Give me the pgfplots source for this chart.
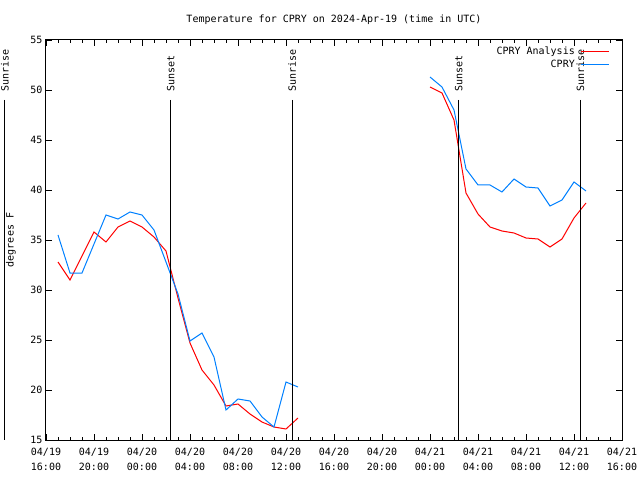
\documentclass[border=0pt]{standalone}
\usepackage{pgfplots}
\pgfplotsset{compat=1.18}
\usepackage{fontspec}
\setmainfont{DejaVu Sans Mono}
\definecolor{cred}{RGB}{255,0,0}
\definecolor{cblue}{RGB}{0,128,255}
\begin{document}
\begin{tikzpicture}
\begin{axis}[
  scale only axis, width=576pt, height=400pt,
  xmin=0, xmax=48, ymin=15, ymax=55,
  xtick={0,4,...,48}, minor x tick num=3,
  ytick={15,20,...,55},
  xticklabels={{04/19\\16:00},{04/19\\20:00},{04/20\\00:00},{04/20\\04:00},{04/20\\08:00},{04/20\\12:00},{04/20\\16:00},{04/20\\20:00},{04/21\\00:00},{04/21\\04:00},{04/21\\08:00},{04/21\\12:00},{04/21\\16:00}},
  tick align=inside, major tick length=6pt, minor tick length=3pt,
  tick style={black, line width=0.8pt},
  axis line style={line width=1pt},
  font=\fontsize{10}{12}\selectfont,
  xticklabel style={align=center, font=\fontsize{10}{15}\selectfont, yshift=-5pt},
  yticklabel style={font=\fontsize{10}{12}\selectfont},
  /pgf/number format/assume math mode=true,
  clip=false,
  title={Temperature for CPRY on 2024-Apr-19 (time in UTC)},
  title style={at={(axis description cs:0.5,1)}, anchor=center, yshift=14pt},
  ylabel={degrees F},
  ylabel style={at={(axis description cs:-0.0608,0.5)}, anchor=center},
  legend style={draw=none, fill=none, at={(axis description cs:1,1)}, anchor=north east,
    xshift=-12pt, yshift=-4.5pt, font=\fontsize{10}{12}\selectfont, row sep=0pt,
    column sep=4pt, inner sep=0pt},
  legend cell align=right,
  legend plot pos=right,
  legend image code/.code={\draw[#1] (0pt,0pt) -- (28pt,0pt);},
]
\coordinate (sw) at (rel axis cs:0,0);
\addplot[cred, line width=1pt] coordinates {
(1,32.8) (2,31.0) (3,33.4) (4,35.8) (5,34.8) (6,36.3) (7,36.9) (8,36.3) (9,35.3) (10,33.9)
(11,29.2) (12,24.7) (13,22.0) (14,20.5) (15,18.4) (16,18.6) (17,17.6) (18,16.8) (19,16.3) (20,16.1) (21,17.2)
};
\addlegendentry{CPRY Analysis}
\addplot[cblue, line width=1pt] coordinates {
(1,35.5) (2,31.7) (3,31.7) (4,34.6) (5,37.5) (6,37.1) (7,37.8) (8,37.5) (9,36.0) (10,32.8)
(11,29.6) (12,24.9) (13,25.7) (14,23.3) (15,18.0) (16,19.1) (17,18.9) (18,17.3) (19,16.3) (20,20.8) (21,20.3)
};
\addlegendentry{CPRY}
\addplot[cred, line width=1pt, forget plot] coordinates {
(32,50.3) (33,49.7) (34,47.0) (35,39.7) (36,37.6) (37,36.3) (38,35.9) (39,35.7) (40,35.2) (41,35.1) (42,34.3) (43,35.1) (44,37.2) (45,38.7)
};
\addplot[cblue, line width=1pt, forget plot] coordinates {
(32,51.3) (33,50.3) (34,48.0) (35,42.1) (36,40.5) (37,40.5) (38,39.8) (39,41.1) (40,40.3) (41,40.2) (42,38.4) (43,39.0) (44,40.8) (45,39.9)
};
\foreach \h/\lab in {-3.42/Sunrise, 10.4/Sunset, 20.52/Sunrise, 34.4/Sunset, 44.53/Sunrise}{
  \edef\tmp{\noexpand\draw[black, line width=1pt] (axis cs:\h,49) -- (axis cs:\h,15);
    \noexpand\node[rotate=90, anchor=west, inner sep=0pt] at (axis cs:\h,49.8) {\lab};}
  \tmp
}
\end{axis}
\pgfresetboundingbox
\path[use as bounding box] (sw) ++(-46pt,-40pt) rectangle ++(640pt,480pt);
\end{tikzpicture}
\end{document}
